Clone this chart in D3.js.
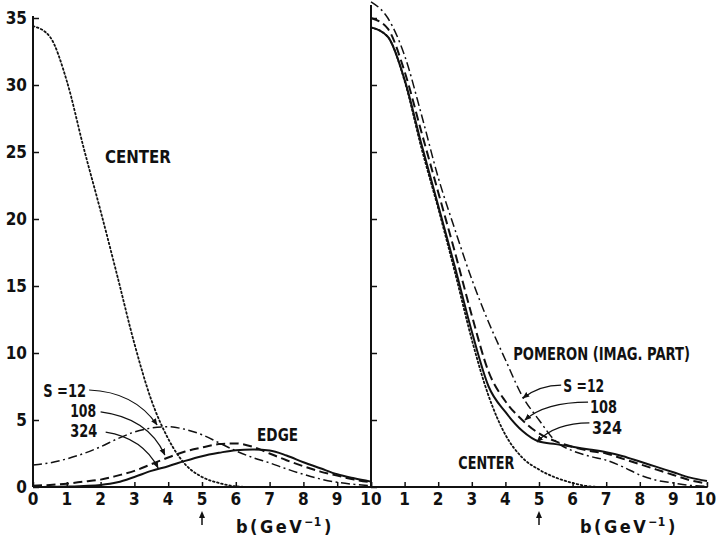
<!DOCTYPE html>
<html><head><meta charset="utf-8">
<script src="https://cdn.jsdelivr.net/npm/d3@7"></script>
<style>
html,body{margin:0;padding:0;background:#fff;}
text{font-family:"DejaVu Sans Condensed","DejaVu Sans",sans-serif;font-weight:bold;fill:#111;}
</style></head>
<body><svg id="c" width="716" height="542"></svg>
<script>
// ---------- data ----------
const bValues = [0,0.5,1,1.5,2,2.5,3,3.5,4,4.5,5,5.5,6,6.5,7,7.5,8,8.5,9,9.5,10];
const xTicks = [0,1,2,3,4,5,6,7,8,9,10];
const yTicks = [0,5,10,15,20,25,30,35];

// left panel: CENTER and EDGE profiles
const leftCenter = [34.4,33.6,30.3,25.3,20.6,15.7,10.7,6.5,3.6,1.7,0.75,0.3,0.05,0,0,0,0,0,0,0,0];
const leftEdgeS12  = [1.65,1.8,2.1,2.5,3.0,3.6,4.1,4.4,4.5,4.3,3.9,3.3,2.7,2.2,1.8,1.35,0.95,0.6,0.35,0.2,0.1];
const leftEdgeS108 = [0.1,0.15,0.25,0.4,0.55,0.85,1.2,1.7,2.2,2.65,2.95,3.2,3.25,3.0,2.5,2.0,1.55,1.15,0.85,0.55,0.35];
const leftEdgeS324 = [0,0.01,0.03,0.08,0.15,0.35,0.75,1.2,1.55,1.95,2.3,2.55,2.75,2.8,2.72,2.35,1.85,1.4,0.95,0.65,0.4];

// right panel: CENTER and POMERON (imag. part)
const rightCenter = [34.3,33.6,30.3,25.3,20.8,16.0,11.0,6.8,3.9,2.2,1.3,0.7,0.3,0.05,0,0,0,0,0,0,0];
const rightPomS12  = [36.2,35.0,32.2,27.8,23.1,19.2,15.5,12.3,9.5,6.8,5.0,3.4,2.7,2.3,2.0,1.5,0.9,0.5,0.3,0.12,0.05];
const rightPomS108 = [35.0,34.2,31.0,26.5,22.0,17.5,12.8,8.6,6.4,5.0,4.0,3.4,3.0,2.7,2.5,2.1,1.7,1.3,0.9,0.5,0.25];
const rightPomS324 = [34.3,33.6,30.4,25.6,21.0,16.4,11.6,7.5,5.6,4.2,3.4,3.2,3.0,2.8,2.6,2.3,1.9,1.5,1.1,0.7,0.45];

// ---------- layout ----------
const svg = d3.select("#c");
const y = d3.scaleLinear().domain([0,35]).range([487,18]);
const xL = d3.scaleLinear().domain([0,10]).range([33,371]);
const xR = d3.scaleLinear().domain([0,10]).range([371,707]);

const styles = {
  center:{dash:"1.6,2.6", w:1.8, cap:"round"},
  s12:{dash:"9,3.5,2,3.5", w:1.5, cap:"butt"},
  s108:{dash:"9,4.5", w:2.0, cap:"butt"},
  s324:{dash:null, w:2.0, cap:"butt"}
};

function drawSeries(x, vals, st){
  const line = d3.line().x((d,i)=>x(bValues[i])).y(d=>y(d)).curve(d3.curveMonotoneX);
  const p = svg.append("path").datum(vals).attr("d",line)
    .attr("fill","none").attr("stroke","#111").attr("stroke-width",st.w)
    .attr("stroke-linecap",st.cap);
  if(st.dash) p.attr("stroke-dasharray",st.dash);
}

// axes
function yAxis(x, labels){
  const g = svg.append("g").attr("transform",`translate(${x(0)},0)`);
  g.call(d3.axisRight(y).tickValues(yTicks).tickSize(6).tickFormat(""));
  g.select(".domain").remove();
  g.selectAll(".tick line").attr("stroke","#111").attr("stroke-width",1.5);
  svg.append("line").attr("x1",x(0)).attr("x2",x(0)).attr("y1",y(0)).attr("y2",x===xR?5:y(35)-2)
    .attr("stroke","#111").attr("stroke-width",2);
  if(labels){
    yTicks.forEach(t=>{
      svg.append("text").attr("x",x(0)-6).attr("y",y(t)+6).attr("text-anchor","end")
        .attr("font-size",17).text(t);
    });
  }
}
function xAxis(x, first){
  const g = svg.append("g").attr("transform",`translate(0,${y(0)})`);
  g.call(d3.axisTop(x).tickValues(xTicks).tickSize(5).tickFormat(""));
  g.select(".domain").remove();
  g.selectAll(".tick line").attr("stroke","#111").attr("stroke-width",1.5);
  xTicks.forEach(t=>{
    if(!first && t===0) return;
    svg.append("text").attr("x",x(t) - (x===xR && t===10 ? 1.5 : 0)).attr("y",505).attr("text-anchor","middle")
      .attr("font-size",17).text(t);
  });
}
svg.append("line").attr("x1",xL(0)).attr("x2",xR(10)).attr("y1",y(0)).attr("y2",y(0))
  .attr("stroke","#111").attr("stroke-width",2.2);
yAxis(xL,true); yAxis(xR,false);
xAxis(xL,true); xAxis(xR,false);

// series
drawSeries(xL,leftCenter,styles.center);
drawSeries(xL,leftEdgeS12,styles.s12);
drawSeries(xL,leftEdgeS108,styles.s108);
drawSeries(xL,leftEdgeS324,styles.s324);
drawSeries(xR,rightCenter,styles.center);
drawSeries(xR,rightPomS12,styles.s12);
drawSeries(xR,rightPomS108,styles.s108);
drawSeries(xR,rightPomS324,styles.s324);

// small arrows at b = 5 and axis titles
[xL,xR].forEach(x=>{
  const cx = x(5);
  svg.append("line").attr("x1",cx).attr("x2",cx).attr("y1",525).attr("y2",516)
    .attr("stroke","#111").attr("stroke-width",1.5);
  svg.append("path").attr("d",`M${cx-3},${518}L${cx},${511}L${cx+3},${518}Z`).attr("fill","#111");
});
function axisTitle(px){
  const t = svg.append("text").attr("x",px).attr("y",533).attr("font-size",18)
    .attr("letter-spacing",2.5);
  t.append("tspan").text("b(GeV");
  t.append("tspan").attr("dy",-7).attr("font-size",12).attr("letter-spacing",0.5).text("−1");
  t.append("tspan").attr("dy",7).attr("dx",2).text(")");
}
axisTitle(236); axisTitle(580);

// labels (data coordinates), horizontally scaled to the reference widths
function label(x, b, v, txt, len){
  const t = svg.append("text").attr("x",0).attr("y",0).attr("font-size",17).text(txt);
  const w = t.node().getComputedTextLength();
  const s = len ? len / w : 1;
  t.attr("transform",`translate(${x(b)},${y(v)}) scale(${s},1)`);
}
label(xL,2.13,24.2,"CENTER",66);
label(xL,6.63,3.4,"EDGE",41);
label(xR,4.23,9.5,"POMERON (IMAG. PART)",177);
label(xR,2.6,1.35,"CENTER",56);
label(xL,0.3,6.75,"S =12",43); label(xL,1.1,5.2,"108",26); label(xL,1.1,3.7,"324",27);
label(xR,5.72,7.1,"S =12",41); label(xR,6.52,5.55,"108",27); label(xR,6.58,3.98,"324",30);

// curved annotation arrows [from, control, to] in data units
const arrowsLeft = [[[1.66,7.24],[3.0,7.1],[3.67,4.63]],[[2.0,5.6],[3.4,5.15],[3.9,2.39]],[[2.15,4.1],[3.25,3.66],[3.7,1.42]]];
const arrowsRight = [[[5.66,7.6],[5.03,7.6],[4.52,6.64]],[[6.46,6.34],[5.18,6.34],[4.58,5.0]],[[6.5,4.78],[5.48,4.78],[4.94,3.36]]];
svg.append("defs").append("marker").attr("id","ah").attr("viewBox","0 0 10 10")
  .attr("refX",9).attr("refY",5).attr("markerWidth",7).attr("markerHeight",7)
  .attr("orient","auto").attr("markerUnits","userSpaceOnUse")
  .append("path").attr("d","M0,1L10,5L0,9Z").attr("fill","#111");
function drawArrows(x, arr){
  arr.forEach(a=>{
    const p = a.map(d=>[x(d[0]),y(d[1])]);
    svg.append("path").attr("d",`M${p[0][0]},${p[0][1]}Q${p[1][0]},${p[1][1]} ${p[2][0]},${p[2][1]}`)
      .attr("fill","none").attr("stroke","#111").attr("stroke-width",1.2).attr("marker-end","url(#ah)");
  });
}
drawArrows(xL,arrowsLeft); drawArrows(xR,arrowsRight);
</script></body></html>
